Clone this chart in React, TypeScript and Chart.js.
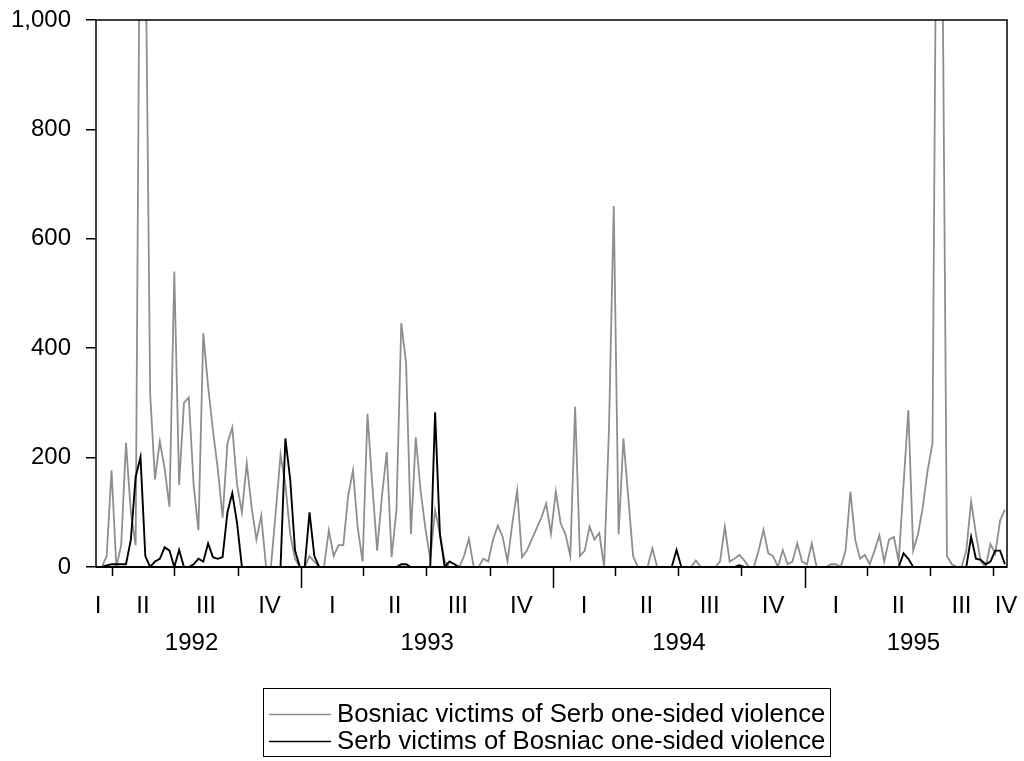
import React, { useEffect, useRef } from "react";
import { Chart, registerables } from "chart.js";

Chart.register(...registerables);

// First weekly observation, in days after 1992-01-01, and the step between observations
const START_DAY = 70;
const WEEK_DAYS = 7;
const X_MIN_DAY = 68.5;
const X_MAX_DAY = 1389;

// Weekly counts (values above 1,000 are clipped by the axis, as in the original)
const bosniacVictims = [
  0, 0, 20, 177, 0, 40, 227, 100, 40, 1400,
  1200, 317, 160, 230, 180, 110, 540, 150, 300, 310,
  150, 67, 427, 330, 250, 180, 90, 226, 255, 150,
  100, 190, 110, 50, 94, 0, 0, 100, 205, 150,
  60, 15, 0, 0, 20, 10, 0, 0, 67, 20,
  40, 40, 130, 177, 70, 10, 280, 150, 30, 130,
  210, 18, 104, 446, 372, 60, 237, 140, 70, 15,
  104, 60, 10, 0, 0, 0, 20, 52, 0, 0,
  15, 10, 50, 76, 55, 10, 80, 140, 18, 30,
  50, 70, 90, 116, 61, 138, 80, 60, 20, 293,
  20, 30, 74, 50, 62, 0, 250, 660, 60, 235,
  128, 20, 0, 0, 0, 34, 0, 0, 0, 0,
  0, 0, 0, 0, 12, 0, 0, 0, 0, 10,
  74, 10, 15, 22, 12, 0, 0, 30, 68, 25,
  20, 0, 31, 5, 10, 43, 10, 5, 43, 0,
  0, 0, 5, 5, 0, 30, 138, 50, 15, 22,
  5, 30, 58, 10, 50, 55, 10, 150, 287, 30,
  60, 110, 177, 226, 1500, 1200, 20, 5, 0, 0,
  30, 120, 60, 10, 0, 42, 25, 85, 105,
];

const serbVictims = [
  0, 0, 3, 5, 5, 5, 5, 50, 165, 201,
  20, 0, 10, 15, 36, 30, 0, 31, 0, 0,
  5, 15, 10, 43, 18, 15, 18, 100, 135, 80,
  0, 0, 0, 0, 0, 0, 0, 0, 0, 235,
  160, 30, 0, 0, 100, 20, 0, 0, 0, 0,
  0, 0, 0, 0, 0, 0, 0, 0, 0, 0,
  0, 0, 0, 5, 5, 0, 0, 0, 0, 0,
  283, 60, 0, 10, 5, 0, 0, 0, 0, 0,
  0, 0, 0, 0, 0, 0, 0, 0, 0, 0,
  0, 0, 0, 0, 0, 0, 0, 0, 0, 0,
  0, 0, 0, 0, 0, 0, 0, 0, 0, 0,
  0, 0, 0, 0, 0, 0, 0, 0, 0, 0,
  31, 0, 0, 0, 0, 0, 0, 0, 0, 0,
  0, 0, 0, 3, 0, 0, 0, 0, 0, 0,
  0, 0, 0, 0, 0, 0, 0, 0, 0, 0,
  0, 0, 0, 0, 0, 0, 0, 0, 0, 0,
  0, 0, 0, 0, 0, 0, 0, 25, 15, 0,
  0, 0, 0, 0, 0, 0, 0, 0, 0, 0,
  0, 55, 15, 13, 5, 10, 30, 30, 5,
];

const years = [1992, 1993, 1994, 1995];
const quarterLabels = ["I", "II", "III", "IV"];
const yTickValues = [0, 200, 400, 600, 800, 1000];
const seriesNames = [
  "Bosniac victims of Serb one-sided violence",
  "Serb victims of Bosniac one-sided violence",
];

const GRAY = "#8e8e8e";
const BLACK = "#000000";
const FONT = "'Liberation Sans', Arial, sans-serif";

function dayOf(year: number, month: number): number {
  return (Date.UTC(year, month, 1) - Date.UTC(1992, 0, 1)) / 86400000;
}

const framePlugin = {
  id: "evFrame",
  afterDraw(chart: any) {
    const { ctx, chartArea } = chart;
    const { left, right, top, bottom } = chartArea;
    const xs = chart.scales.x;
    ctx.save();
    ctx.strokeStyle = BLACK;
    ctx.lineWidth = 1.5;
    ctx.strokeRect(left, top, right - left, bottom - top);
    ctx.lineWidth = 2;
    ctx.beginPath();
    ctx.moveTo(left, bottom);
    ctx.lineTo(right, bottom);
    ctx.stroke();

    // quarter ticks (long ones at year boundaries)
    ctx.lineWidth = 1.5;
    for (let yi = 0; yi < years.length; yi++) {
      for (let q = 0; q < 4; q++) {
        const d = dayOf(years[yi], q * 3);
        if (d <= X_MIN_DAY || d >= X_MAX_DAY) continue;
        const px = Math.round(xs.getPixelForValue(d)) + 0.5;
        ctx.beginPath();
        ctx.moveTo(px, bottom);
        ctx.lineTo(px, bottom + (q === 0 ? 21 : 9));
        ctx.stroke();
      }
    }

    ctx.fillStyle = "#000";
    ctx.font = `24px ${FONT}`;
    ctx.textAlign = "center";
    ctx.textBaseline = "middle";
    for (let yi = 0; yi < years.length; yi++) {
      for (let q = 0; q < 4; q++) {
        const s = dayOf(years[yi], q * 3);
        const e = q === 3 ? dayOf(years[yi] + 1, 0) : dayOf(years[yi], q * 3 + 3);
        if (e <= X_MIN_DAY || s >= X_MAX_DAY) continue;
        let cx = xs.getPixelForValue((s + e) / 2);
        cx = Math.max(left + 2, Math.min(right - 1, cx));
        ctx.fillText(quarterLabels[q], cx, 606);
      }
      const fs = xs.getPixelForValue(dayOf(years[yi], 0));
      const fe = xs.getPixelForValue(dayOf(years[yi] + 1, 0));
      const vs = Math.max(left, fs);
      const ve = Math.min(right, fe);
      const visibleCenter = (vs + ve) / 2;
      const fullCenter = (fs + fe) / 2;
      const cx = visibleCenter + 0.3 * (fullCenter - visibleCenter);
      ctx.fillText(String(years[yi]), cx, 643);
    }

    // legend
    const lx = 263, ly = 688, lw = 567, lh = 68;
    ctx.lineWidth = 1;
    ctx.strokeStyle = BLACK;
    ctx.strokeRect(lx + 0.5, ly + 0.5, lw, lh);
    const colors = [GRAY, BLACK];
    ctx.textAlign = "left";
    ctx.font = `25.7px ${FONT}`;
    for (let i = 0; i < seriesNames.length; i++) {
      const rowY = 714 + i * 27;
      ctx.strokeStyle = colors[i];
      ctx.lineWidth = 1.5;
      ctx.beginPath();
      ctx.moveTo(269, rowY + 0.5);
      ctx.lineTo(331, rowY + 0.5);
      ctx.stroke();
      ctx.fillStyle = "#000";
      ctx.fillText(seriesNames[i], 337, rowY + 1);
    }
    ctx.restore();
  },
};

export default function App() {
  const canvasRef = useRef<HTMLCanvasElement | null>(null);

  useEffect(() => {
    if (!canvasRef.current) return;
    const toPoints = (arr: number[]) =>
      arr.map((v, i) => ({ x: START_DAY + i * WEEK_DAYS, y: v }));
    const chart = new Chart(canvasRef.current, {
      type: "line",
      data: {
        datasets: [
          {
            label: seriesNames[0],
            data: toPoints(bosniacVictims),
            borderColor: GRAY,
            borderWidth: 1.8,
            pointRadius: 0,
            tension: 0,
            order: 2,
          },
          {
            label: seriesNames[1],
            data: toPoints(serbVictims),
            borderColor: BLACK,
            borderWidth: 1.9,
            pointRadius: 0,
            tension: 0,
            order: 1,
          },
        ],
      },
      options: {
        animation: false,
        responsive: false,
        maintainAspectRatio: false,
        events: [],
        layout: { padding: { left: 0, right: 17, top: 20, bottom: 0 } },
        plugins: { legend: { display: false }, tooltip: { enabled: false } },
        scales: {
          x: {
            type: "linear",
            min: X_MIN_DAY,
            max: X_MAX_DAY,
            ticks: { display: false },
            grid: { display: false },
            border: { display: false },
            afterFit(scale: any) {
              scale.height = 194;
              scale.paddingLeft = 0;
              scale.paddingRight = 0;
            },
          },
          y: {
            min: 0,
            max: 1000,
            afterBuildTicks(scale: any) {
              scale.ticks = yTickValues.map((v) => ({ value: v }));
            },
            ticks: {
              color: "#000",
              padding: 15,
              font: { family: FONT, size: 24 },
              callback: (v: any) => Number(v).toLocaleString("en-US"),
            },
            grid: {
              drawOnChartArea: false,
              drawTicks: true,
              tickLength: 10,
              color: BLACK,
              lineWidth: 1.5,
            },
            border: { display: false },
            afterFit(scale: any) {
              scale.width = 96;
              scale.paddingTop = 0;
              scale.paddingBottom = 0;
            },
          },
        },
      },
      plugins: [framePlugin],
    });
    return () => chart.destroy();
  }, []);

  return (
    <div style={{ position: "absolute", left: 0, top: 0, width: 1024, height: 761, background: "#fff" }}>
      <canvas ref={canvasRef} width={1024} height={761} style={{ width: 1024, height: 761 }} />
    </div>
  );
}
